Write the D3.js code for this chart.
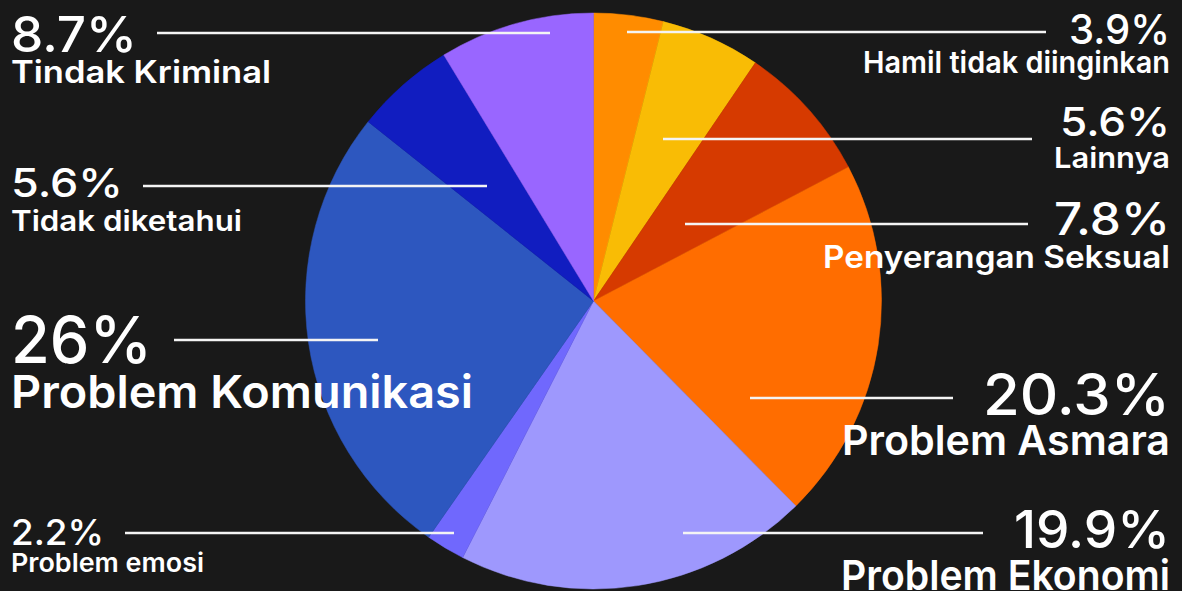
<!DOCTYPE html>
<html>
<head>
<meta charset="utf-8">
<script src="https://cdn.jsdelivr.net/npm/d3@7"></script>
<style>
  html, body { margin: 0; padding: 0; background: #191919; }
  svg text { font-family: Inter, "Noto Sans", sans-serif; fill: #ffffff; }
</style>
</head>
<body>
<div id="chart"></div>
<script>
// slices, clockwise from 12 o'clock
var categories = ["Hamil tidak diinginkan", "Lainnya", "Penyerangan Seksual", "Problem Asmara",
    "Problem Ekonomi", "Problem emosi", "Problem Komunikasi", "Tidak diketahui", "Tindak Kriminal"];
var values = [3.9, 5.6, 7.8, 20.3, 19.9, 2.2, 26, 5.6, 8.7];
var pctLabels = ["3.9%", "5.6%", "7.8%", "20.3%", "19.9%", "2.2%", "26%", "5.6%", "8.7%"];
var colors = ["#ff8c00", "#f9bc05", "#d63a00", "#ff6d00", "#9e98fd", "#7068fd", "#2d57bf", "#111dc0", "#9966ff"];

// label placement (hand tuned to the picture), widths = rendered text widths
var labelLayout = [
    {side: "right", pctY: 44,  pctSize: 41, pctW: 101, labY: 73,  labSize: 30, labW: 307, lineY: 32,  x1: 627, x2: 1046},
    {side: "right", pctY: 136, pctSize: 40, pctW: 110, labY: 168, labSize: 29, labW: 116, lineY: 139, x1: 663, x2: 1032},
    {side: "right", pctY: 235, pctSize: 45, pctW: 116, labY: 268, labSize: 31, labW: 347, lineY: 224, x1: 685, x2: 1028},
    {side: "right", pctY: 415, pctSize: 57, pctW: 187, labY: 455, labSize: 41, labW: 328, lineY: 398, x1: 750, x2: 953},
    {side: "right", pctY: 548, pctSize: 52, pctW: 156, labY: 590, labSize: 41, labW: 329, lineY: 533, x1: 683, x2: 983},
    {side: "left",  pctY: 545, pctSize: 36, pctW: 93,  labY: 572, labSize: 26, labW: 193, lineY: 533, x1: 125, x2: 454},
    {side: "left",  pctY: 363, pctSize: 65, pctW: 141, labY: 408, labSize: 45, labW: 462, lineY: 340, x1: 174, x2: 378},
    {side: "left",  pctY: 197, pctSize: 40, pctW: 112, labY: 231, labSize: 29, labW: 231, lineY: 186, x1: 143, x2: 487},
    {side: "left",  pctY: 52,  pctSize: 50, pctW: 126, labY: 83,  labSize: 31, labW: 260, lineY: 33,  x1: 157, x2: 550}
];

var width = 1182, height = 591;
var cx = 593.5, cy = 301, radius = 288;

var svg = d3.select("#chart")
    .append("svg")
    .attr("width", width)
    .attr("height", height);

svg.append("rect")
    .attr("width", width)
    .attr("height", height)
    .attr("fill", "#191919");

var pie = d3.pie().sort(null).value(function(d) { return d; });
var arc = d3.arc().innerRadius(0).outerRadius(radius);

var pieGroup = svg.append("g")
    .attr("transform", "translate(" + cx + "," + cy + ")");

pieGroup.selectAll(".slice")
    .data(pie(values))
    .enter()
    .append("path")
    .attr("class", "slice")
    .attr("d", arc)
    .attr("fill", function(d, i) { return colors[i]; })
    .attr("stroke", function(d, i) { return colors[i]; })
    .attr("stroke-width", 0.5);

var labels = svg.selectAll(".label")
    .data(categories)
    .enter()
    .append("g")
    .attr("class", "label");

labels.append("line")
    .attr("x1", function(d, i) { return labelLayout[i].x1; })
    .attr("x2", function(d, i) { return labelLayout[i].x2; })
    .attr("y1", function(d, i) { return labelLayout[i].lineY; })
    .attr("y2", function(d, i) { return labelLayout[i].lineY; })
    .attr("stroke", "#f4f4f4")
    .attr("stroke-width", 2.5);

var textX = function(d, i) { return labelLayout[i].side == "left" ? 11 : 1170; };
var anchor = function(d, i) { return labelLayout[i].side == "left" ? "start" : "end"; };

labels.append("text")
    .attr("x", textX)
    .attr("y", function(d, i) { return labelLayout[i].pctY; })
    .attr("text-anchor", anchor)
    .attr("font-size", function(d, i) { return labelLayout[i].pctSize; })
    .attr("font-weight", 500)
    .attr("textLength", function(d, i) { return labelLayout[i].pctW; })
    .attr("lengthAdjust", "spacingAndGlyphs")
    .text(function(d, i) { return pctLabels[i]; });

labels.append("text")
    .attr("x", textX)
    .attr("y", function(d, i) { return labelLayout[i].labY; })
    .attr("text-anchor", anchor)
    .attr("font-size", function(d, i) { return labelLayout[i].labSize; })
    .attr("font-weight", 600)
    .attr("textLength", function(d, i) { return labelLayout[i].labW; })
    .attr("lengthAdjust", "spacingAndGlyphs")
    .text(function(d) { return d; });
</script>
</body>
</html>
